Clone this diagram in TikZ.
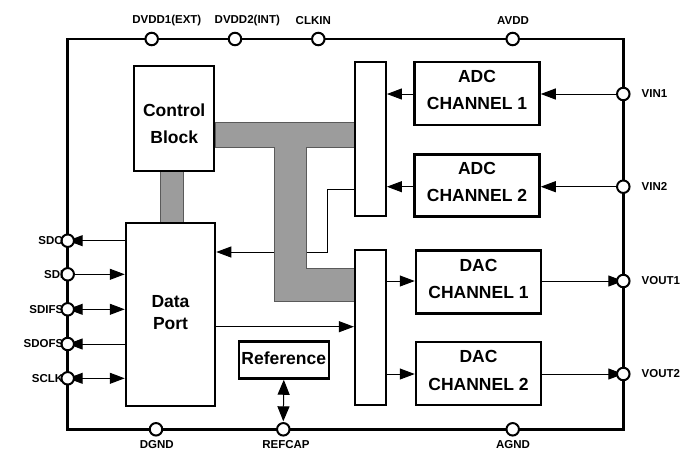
\documentclass[tikz,border=0pt]{standalone}
\usepackage{fontspec}
\setmainfont{Liberation Sans}
\usetikzlibrary{arrows.meta}
\definecolor{busgray}{HTML}{9C9C9C}
\definecolor{busedge}{HTML}{5A5A5A}
\pgfdeclarelayer{bg}
\pgfsetlayers{bg,main}
\begin{document}
\begin{tikzpicture}[x=1pt,y=-1pt,
  blk/.style={draw, line width=2.5pt, fill=white, inner sep=0pt},
  txt/.style={inner sep=0pt, align=center, font=\fontsize{17.5}{27.5}\selectfont\bfseries},
  muxbar/.style={draw, line width=2.2pt, fill=white, inner sep=0pt, minimum width=31pt},
  pin/.style={circle, draw, line width=2pt, fill=white, minimum size=12.5pt, inner sep=0pt},
  lbl/.style={font=\fontsize{11.5}{13}\selectfont\bfseries, inner sep=0pt},
  sig/.style={line width=1pt, -{Triangle[length=15pt,width=11pt]}},
  sigb/.style={line width=1pt, {Triangle[length=15pt,width=11pt]}-{Triangle[length=15pt,width=11pt]}},
  bus/.style={fill=busgray, draw=busedge, line width=0.8pt}
]
\useasboundingbox (0,0) rectangle (696,451);

% outer frame
\draw[line width=2.5pt] (67.7,39) rectangle (623.3,429.3);

% blocks
\node[blk, minimum width=80pt, minimum height=105pt] (ctrl) at (174.2,118.5) {};
\node[txt] (ctrl-t) at ([yshift=-5pt]ctrl.center) {Control\\Block};
\node[blk, minimum width=89pt, minimum height=183pt] (dport) at (170.5,314.3) {};
\node[txt, font=\fontsize{17.5}{22}\selectfont\bfseries] (dport-t) at ([yshift=1.5pt]dport.center) {Data\\Port};
\node[blk, minimum width=90pt, minimum height=37pt] (ref) at (283.8,360) {};
\node[txt] (ref-t) at ([yshift=1.5pt]ref.center) {Reference};
\node[blk, minimum width=125pt, minimum height=63pt] (adc1) at (477,93.5) {};
\node[txt] (adc1-t) at ([yshift=3.5pt]adc1.center) {ADC\\CHANNEL 1};
\node[blk, minimum width=125pt, minimum height=62pt] (adc2) at (477,185.3) {};
\node[txt] (adc2-t) at ([yshift=3.5pt]adc2.center) {ADC\\CHANNEL 2};
\node[blk, minimum width=125pt, minimum height=63pt] (dac1) at (478.5,281.8) {};
\node[txt] (dac1-t) at ([yshift=3pt]dac1.center) {DAC\\CHANNEL 1};
\node[blk, minimum width=125pt, minimum height=63pt] (dac2) at (478.5,373.7) {};
\node[txt] (dac2-t) at ([yshift=3pt]dac2.center) {DAC\\CHANNEL 2};
\node[muxbar, minimum height=154pt] (mux1) at (370.3,139) {};
\node[muxbar, minimum height=155pt] (mux2) at (370.5,327.3) {};

% pin positions
\coordinate (p-dvdd1) at (151.7,39);
\coordinate (p-dvdd2) at (235,39);
\coordinate (p-clkin) at (318.3,39);
\coordinate (p-avdd) at (512.7,39);
\coordinate (p-vin1) at (623.3,94);
\coordinate (p-vin2) at (623.3,186.7);
\coordinate (p-vout1) at (623.3,281);
\coordinate (p-vout2) at (623.3,374);
\coordinate (p-sdo) at (67.7,240.7);
\coordinate (p-sdi) at (67.7,274.3);
\coordinate (p-sdifs) at (67.7,309.3);
\coordinate (p-sdofs) at (67.7,344);
\coordinate (p-sclk) at (67.7,378.3);
\coordinate (p-dgnd) at (156,429.3);
\coordinate (p-refcap) at (283.3,429.3);
\coordinate (p-agnd) at (512.7,429.3);

% bus and hidden line (background)
\begin{pgfonlayer}{bg}
\draw[sig] (mux1.west |- 0,189) -| (327,252) -- (dport.east |- 0,252);
\draw[bus] (215,122.7) -- (355,122.7) -- (355,147.7) -- (306,147.7) -- (306,268)
  -- (355,268) -- (355,301) -- (274,301) -- (274,147.7) -- (215,147.7) -- cycle;
\draw[bus] (160,171) rectangle (183.3,223);
\end{pgfonlayer}

% signal connectors
\draw[sig] (p-vin1) -- (adc1.east |- p-vin1);
\draw[sig] (adc1.west |- p-vin1) -- (mux1.east |- p-vin1);
\draw[sig] (p-vin2) -- (adc2.east |- p-vin2);
\draw[sig] (adc2.west |- p-vin2) -- (mux1.east |- p-vin2);
\draw[sig] (mux2.east |- p-vout1) -- (dac1.west |- p-vout1);
\draw[sig] (dac1.east |- p-vout1) -- (p-vout1);
\draw[sig] (mux2.east |- p-vout2) -- (dac2.west |- p-vout2);
\draw[sig] (dac2.east |- p-vout2) -- (p-vout2);
\draw[sig] (dport.east |- 0,326.7) -- (mux2.west |- 0,326.7);
\draw[sig] (dport.west |- p-sdo) -- (p-sdo);
\draw[sig] (p-sdi) -- (dport.west |- p-sdi);
\draw[sigb] (p-sdifs) -- (dport.west |- p-sdifs);
\draw[sig] (dport.west |- p-sdofs) -- (p-sdofs);
\draw[sigb] (p-sclk) -- (dport.west |- p-sclk);
\draw[line width=1pt, {Triangle[length=15pt,width=12pt]}-{Triangle[length=15pt,width=12pt]}]
  (ref.south) -- ([yshift=8pt]p-refcap);

% pins
\foreach \p in {dvdd1,dvdd2,clkin,avdd,vin1,vin2,vout1,vout2,sdo,sdi,sdifs,sdofs,sclk,dgnd,refcap,agnd}
  \node[pin] (\p) at (p-\p) {};

% pin labels
\node[lbl] (l-dvdd1) at (166.8,20.5) {DVDD1(EXT)};
\node[lbl] (l-dvdd2) at (247.3,20.5) {DVDD2(INT)};
\node[lbl] (l-clkin) at (313.3,20.5) {CLKIN};
\node[lbl] (l-avdd) at (513,20.5) {AVDD};
\node[lbl, anchor=west] (l-vin1) at (641.5,94) {VIN1};
\node[lbl, anchor=west] (l-vin2) at (641.5,186.7) {VIN2};
\node[lbl, anchor=west] (l-vout1) at (641.5,281) {VOUT1};
\node[lbl, anchor=west] (l-vout2) at (641.5,374) {VOUT2};
\node[lbl, anchor=east] (l-sdo) at (63.5,240.7) {SDO};
\node[lbl, anchor=east] (l-sdi) at (63.5,274.3) {SDI};
\node[lbl, anchor=east] (l-sdifs) at (63.5,309.3) {SDIFS};
\node[lbl, anchor=east] (l-sdofs) at (63.5,344) {SDOFS};
\node[lbl, anchor=east] (l-sclk) at (63.5,378.3) {SCLK};
\node[lbl] (l-dgnd) at (156.7,444.5) {DGND};
\node[lbl] (l-refcap) at (286,444.5) {REFCAP};
\node[lbl] (l-agnd) at (513,444.5) {AGND};
\end{tikzpicture}
\end{document}
